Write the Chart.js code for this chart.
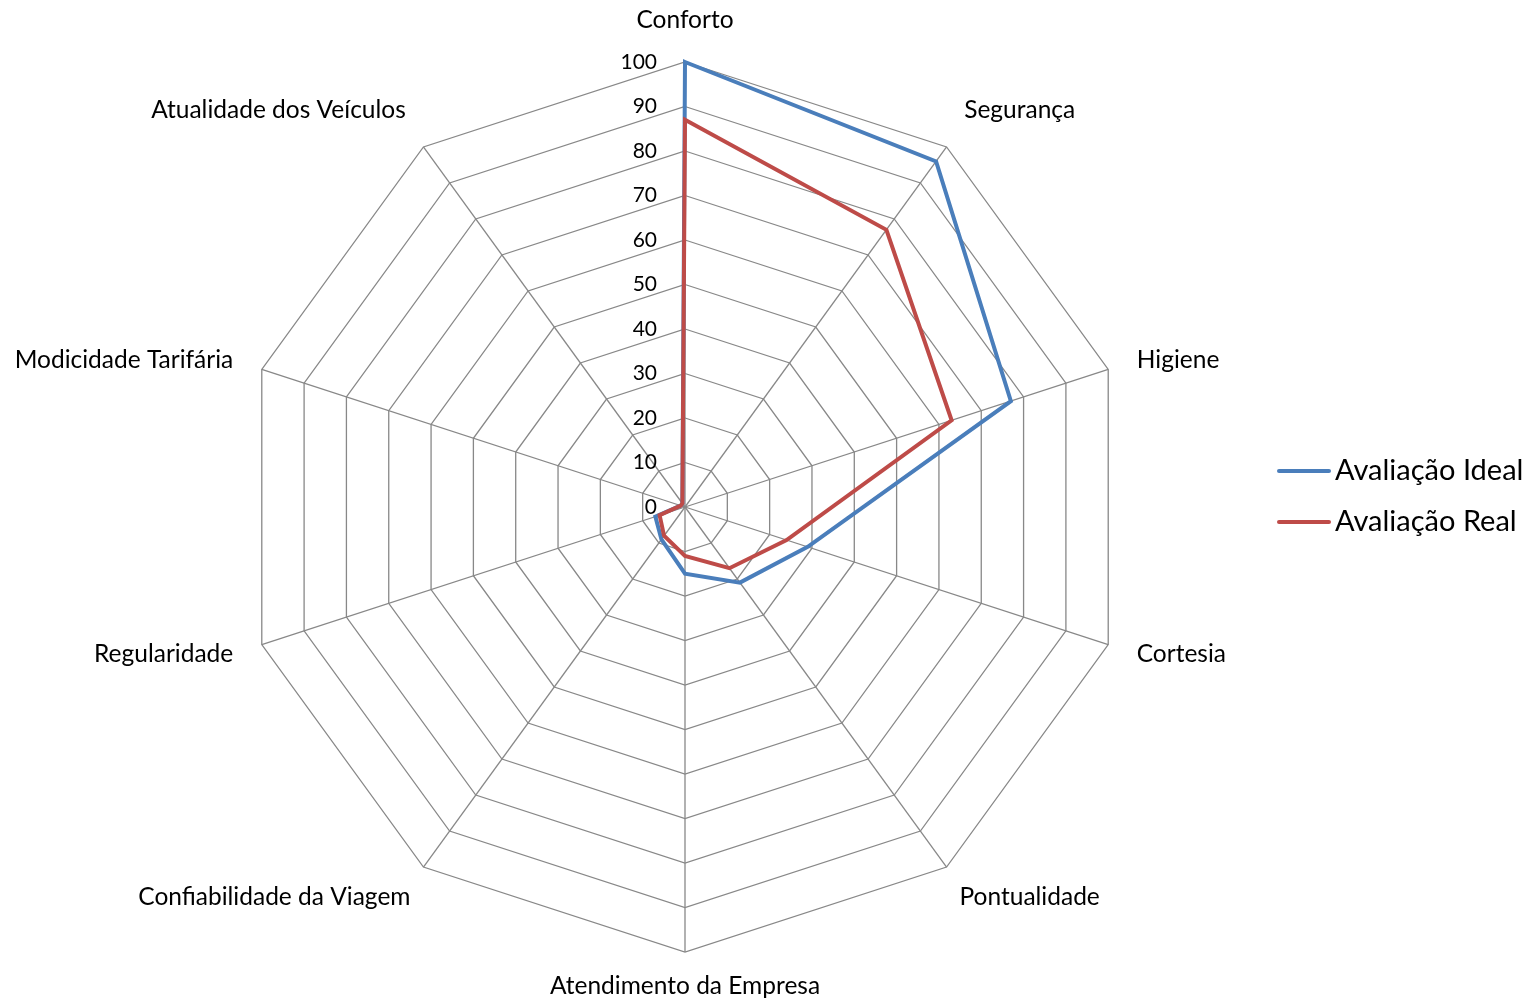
<!DOCTYPE html>
<html>
<head>
<meta charset="utf-8">
<script src="https://cdn.jsdelivr.net/npm/chart.js@4.4.1/dist/chart.umd.min.js"></script>
<style>
  html, body { margin: 0; padding: 0; background: #fff; }
  #wrap { width: 1540px; height: 1002px; }
</style>
</head>
<body>
<div id="wrap"><canvas id="chart" width="1540" height="1002"></canvas></div>
<script>
const categories = [
  "Conforto",
  "Segurança",
  "Higiene",
  "Cortesia",
  "Pontualidade",
  "Atendimento da Empresa",
  "Confiabilidade da Viagem",
  "Regularidade",
  "Modicidade Tarifária",
  "Atualidade dos Veículos",
];
const idealValues = [100, 96, 77, 29, 21, 15, 9, 7, 1, 1];
const realValues = [87, 77, 63, 24, 17, 11, 8, 6, 1, 1];
const tickLabels = ["0", "10", "20", "30", "40", "50", "60", "70", "80", "90", "100"];

const FONT = "Lato, 'Open Sans', sans-serif";
const gridColor = "#888888";

// axis numbers, category names and legend are painted on the canvas here
const radarText = {
  id: "radarText",
  afterDraw(chart) {
    const ctx = chart.ctx;
    const r = chart.scales.r;
    ctx.save();
    ctx.fillStyle = "#000";

    // tick numbers sit to the left of the vertical axis
    ctx.font = "21px " + FONT;
    ctx.textAlign = "right";
    ctx.textBaseline = "middle";
    r.ticks.forEach((t, i) => {
      const d = r.getDistanceFromCenterForValue(t.value);
      ctx.fillText(tickLabels[i], r.xCenter - 28, r.yCenter - d);
    });

    // category names outside each spoke
    ctx.font = "24.5px " + FONT;
    chart.data.labels.forEach((lab, i) => {
      const a = r.getIndexAngle(i);
      const s = Math.sin(a), c = Math.cos(a);
      const below = c < -0.5;
      const p = r.getPointPosition(i, r.drawingArea + (below ? 22 : 30));
      ctx.textAlign = Math.abs(s) < 0.05 ? "center" : (s > 0 ? "left" : "right");
      ctx.textBaseline = c > 0.5 ? "bottom" : (below ? "top" : "middle");
      ctx.fillText(lab, p.x, p.y);
    });

    // legend
    ctx.font = "29px " + FONT;
    ctx.textAlign = "left";
    ctx.textBaseline = "middle";
    ctx.lineCap = "round";
    chart.data.datasets.forEach((ds, i) => {
      const y = 471 + i * 51;
      ctx.strokeStyle = ds.borderColor;
      ctx.lineWidth = 4;
      ctx.beginPath();
      ctx.moveTo(1279, y);
      ctx.lineTo(1329, y);
      ctx.stroke();
      ctx.fillText(ds.label, 1335, y);
    });
    ctx.restore();
  },
};

new Chart(document.getElementById("chart"), {
  type: "radar",
  data: {
    labels: categories,
    datasets: [
      {
        label: "Avaliação Ideal",
        data: idealValues,
        borderColor: "#4a7ebb",
        order: 1,
      },
      {
        label: "Avaliação Real",
        data: realValues,
        borderColor: "#be4b48",
        order: 0,
      },
    ],
  },
  options: {
    responsive: false,
    animation: false,
    devicePixelRatio: 1,
    layout: { padding: { top: 62, bottom: 50, left: 0, right: 170 } },
    elements: {
      line: { borderWidth: 4, tension: 0, fill: false, borderJoinStyle: "miter" },
      point: { radius: 0, hoverRadius: 0 },
    },
    plugins: {
      legend: { display: false },
      tooltip: { enabled: false },
    },
    scales: {
      r: {
        min: 0,
        max: 100,
        ticks: { stepSize: 10, display: false },
        pointLabels: { display: false },
        grid: { color: gridColor, lineWidth: 1.3 },
        angleLines: { color: gridColor, lineWidth: 1.3 },
      },
    },
  },
  plugins: [radarText],
});
</script>
</body>
</html>
